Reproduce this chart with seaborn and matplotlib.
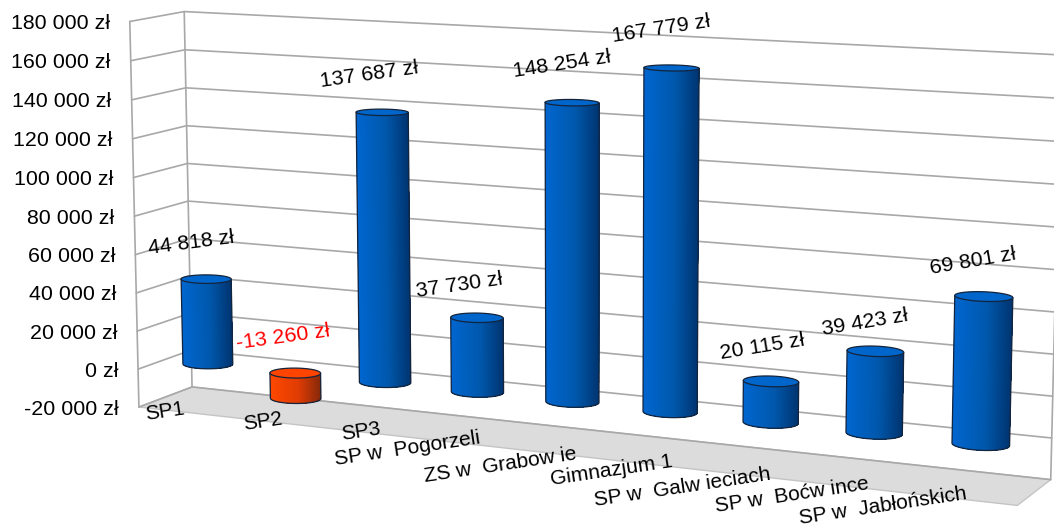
import numpy as np
import pandas as pd
import matplotlib
matplotlib.use("Agg")
import matplotlib.pyplot as plt
from matplotlib.collections import PolyCollection
from matplotlib.colors import LinearSegmentedColormap
import seaborn as sns

categories = ["SP1", "SP2", "SP3", "SP w  Pogorzeli", "ZS w  Grabow ie", "Gimnazjum 1",
              "SP w  Galw ieciach", "SP w  Boćw ince", "SP w  Jabłońskich"]
values = [44818, -13260, 137687, 37730, 148254, 167779, 20115, 39423, 69801]
value_labels = ["44 818 zł", "-13 260 zł", "137 687 zł", "37 730 zł", "148 254 zł",
                "167 779 zł", "20 115 zł", "39 423 zł", "69 801 zł"]
axis_ticks = [180000, 160000, 140000, 120000, 100000, 80000, 60000, 40000, 20000, 0, -20000]
axis_labels = ["180 000 zł", "160 000 zł", "140 000 zł", "120 000 zł", "100 000 zł", "80 000 zł",
               "60 000 zł", "40 000 zł", "20 000 zł", "0 zł", "-20 000 zł"]

sns.set_theme(style="white")
plt.rcParams["font.family"] = ["Liberation Sans", "DejaVu Sans"]

# 3D box (u across, w depth, z value) -> picture: projective camera fitted on the box corners
Z0, Z1 = -20000.0, 180000.0
box3d = [(0, 0, Z1), (0, 0, Z0), (0, 1, Z1), (0, 1, Z0), (1, 1, Z1), (1, 1, Z0), (1, 0, Z0)]
box2d = [(130, 21), (139, 407), (184, 12), (192, 387), (1061, 55), (1051, 479), (1017, 506)]

def fit_camera():
    rows = []
    for (u, w, z), (x, y) in zip(box3d, box2d):
        p = [u, w, (z - Z0) / (Z1 - Z0), 1.0]
        rows.append(p + [0, 0, 0, 0] + [-x * c for c in p])
        rows.append([0, 0, 0, 0] + p + [-y * c for c in p])
    return np.linalg.svd(np.array(rows))[2][-1].reshape(3, 4)

CAM = fit_camera()

def project(u, w, z):
    u, w, z = np.broadcast_arrays(np.asarray(u, float), np.asarray(w, float), np.asarray(z, float))
    h = np.stack([u, w, (z - Z0) / (Z1 - Z0), np.ones_like(u)])
    q = CAM @ h.reshape(4, -1)
    return (q[0] / q[2]).reshape(u.shape), (q[1] / q[2]).reshape(u.shape)

fig = plt.figure(figsize=(10.54, 5.29), dpi=100)
ax = fig.add_axes([0, 0, 1, 1])

# floor
fx, fy = project([0, 1, 1, 0], [0, 0, 1, 1], [Z0] * 4)
ax.fill(fx, fy, facecolor="#dcdcdc", edgecolor="#c4c4c4", lw=1.0, zorder=1)

# walls: grid drawn with seaborn
rows = []
for t in axis_ticks:
    x, y = project([0, 0, 1], [0, 1, 1], [t] * 3)
    for a, b in zip(x, y):
        rows.append({"px": a, "py": b, "line": f"h{t}"})
for name, (u, w) in {"front": (0, 0), "back": (0, 1), "right": (1, 1)}.items():
    x, y = project([u, u], [w, w], [Z0, Z1])
    for a, b in zip(x, y):
        rows.append({"px": a, "py": b, "line": name})
grid = pd.DataFrame(rows)
sns.lineplot(data=grid, x="px", y="py", units="line", estimator=None, sort=False,
             color="#a8a8a8", lw=1.2, ax=ax, zorder=2, legend=False)

BLUE = LinearSegmentedColormap.from_list("b", [(0, "#0066d0"), (0.55, "#0058ac"), (1, "#003470")])
RED = LinearSegmentedColormap.from_list("r", [(0, "#ff4800"), (0.55, "#e03c04"), (1, "#84280a")])
TOPS = {True: "#0066cc", False: "#ff4400"}
RU, RW, WC = 0.0285, 0.22, 0.5
OUTLINE = "#14243c"

full = np.linspace(0, 2 * np.pi, 721)
for i, v in enumerate(values):
    uc = (i + 0.5) / len(values)
    lo, hi = min(0, v), max(0, v)
    zo = 3 + i * 0.01
    cmap = BLUE if v >= 0 else RED
    ex, ey = project(uc + RU * np.cos(full), WC + RW * np.sin(full), hi)
    # the visible side runs between the ellipse's left and right extremes, through its front
    th_l, th_r = full[np.argmin(ex)], full[np.argmax(ex)]
    if th_r < th_l:
        th_r += 2 * np.pi
    th = np.linspace(th_l, th_r, 71)
    cu, cw = uc + RU * np.cos(th), WC + RW * np.sin(th)
    bx, by = project(cu, cw, lo)
    tx, ty = project(cu, cw, hi)
    # each strip runs on to the right edge, so later strips overpaint and no seams appear
    polys, cols = [], []
    for j in range(len(th) - 1):
        polys.append(np.column_stack([np.concatenate([bx[j:], tx[j:][::-1]]),
                                      np.concatenate([by[j:], ty[j:][::-1]])]))
        cols.append(cmap((bx[j] - bx[0]) / (bx[-1] - bx[0])))
    ax.add_collection(PolyCollection(polys, facecolors=cols, edgecolors="none", zorder=zo))
    ox = np.concatenate([[tx[0]], bx, [tx[-1]]])
    oy = np.concatenate([[ty[0]], by, [ty[-1]]])
    ax.plot(ox, oy, color=OUTLINE, lw=0.9, zorder=zo + 0.001)
    ax.fill(ex, ey, facecolor=TOPS[v >= 0], edgecolor=OUTLINE, lw=0.9, zorder=zo + 0.002)

ax.set_xlim(0, 1054)
ax.set_ylim(529, 0)
ax.axis("off")

# value labels
nudge = [(-15, -36), (-12, -36), (-13, -38), (-18, -33), (-10, -38), (-10, -39), (-9, -35), (-10, -29), (-11, -35)]
for i, (v, lab) in enumerate(zip(values, value_labels)):
    x, y = project((i + 0.5) / len(values), WC, max(0, v))
    ax.text(float(x) + nudge[i][0], float(y) + nudge[i][1], lab, fontsize=15.4,
            color="#ff0000" if v < 0 else "#000000", rotation=7.5 + 2.2 * i / 8 if i else 7.5,
            rotation_mode="anchor", ha="center", va="center", zorder=6)

# value axis labels
for t, lab in zip(axis_ticks, axis_labels):
    x, y = project(0, 0, t)
    ax.text(float(x) - 20, float(y) + 2, lab, fontsize=15.4, ha="right", va="center", color="#000000", zorder=6)

# category labels
cat_pos = [(165, 412), (263, 422), (361, 432), (407, 449), (500, 465), (612, 470), (682, 487), (792, 495), (883, 506)]
for name, (x, y) in zip(categories, cat_pos):
    ax.text(x, y, name, fontsize=15, color="#000000", rotation=8.5, rotation_mode="anchor",
            ha="center", va="center", zorder=6)

fig.savefig("out.png", dpi=100)
